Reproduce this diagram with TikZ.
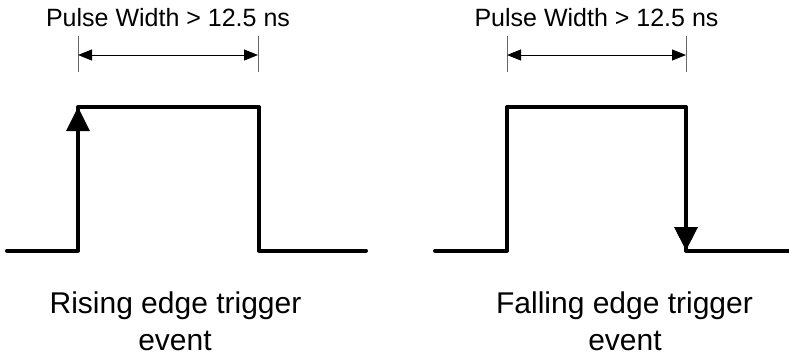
\documentclass[tikz,border=0pt]{standalone}
\usepackage{fontspec}
\setmainfont{Liberation Sans}
\usetikzlibrary{arrows.meta}
\begin{document}
\begin{tikzpicture}[x=1pt,y=-1pt,
  wave/.style={line width=4pt,line cap=round,line join=round,black},
  bigtip/.style={fill=black},
  tick/.style={line width=1pt,black!60},
  dim/.style={line width=1pt,black,{Triangle[length=14pt,width=11pt]}-{Triangle[length=14pt,width=11pt]}},
  toplbl/.style={anchor=base,inner sep=0pt,font=\fontsize{25}{30}\selectfont},
  botlbl/.style={anchor=base,inner sep=0pt,font=\fontsize{30}{37}\selectfont}]
\useasboundingbox (0,0) rectangle (789,354);
% left pulse
\draw[wave] (7,250.5) -- (78,250.5) -- (78,107) -- (259,107) -- (259,250.5) -- (366,250.5);
\fill[bigtip] (78,107) -- (66,131) -- (90,131) -- cycle;
% right pulse
\draw[wave] (435,250.5) -- (507,250.5) -- (507,107) -- (686,107) -- (686,250.5) -- (792,250.5);
\fill[bigtip] (686,250.5) -- (674,227) -- (698,227) -- cycle;
% dimensions left
\coordinate (la) at (78,55);
\coordinate (lb) at (258,55);
\draw[tick] (78,36) -- (78,72);
\draw[tick] (258,36) -- (258,72);
\draw[dim] (la) -- (lb);
% dimensions right
\coordinate (ra) at (507,55);
\coordinate (rb) at (686,55);
\draw[tick] (507,36) -- (507,72);
\draw[tick] (686,36) -- (686,72);
\draw[dim] (ra) -- (rb);
% labels
\node[toplbl] (lt) at (168,26) {Pulse Width > 12.5 ns};
\node[toplbl] (rt) at (596.5,26) {Pulse Width > 12.5 ns};
\node[botlbl] (lb1) at (175.5,313) {Rising edge trigger};
\node[botlbl] (lb2) at (175,350) {event};
\node[botlbl] (rb1) at (624.5,313) {Falling edge trigger};
\node[botlbl] (rb2) at (625,350) {event};
\end{tikzpicture}
\end{document}
